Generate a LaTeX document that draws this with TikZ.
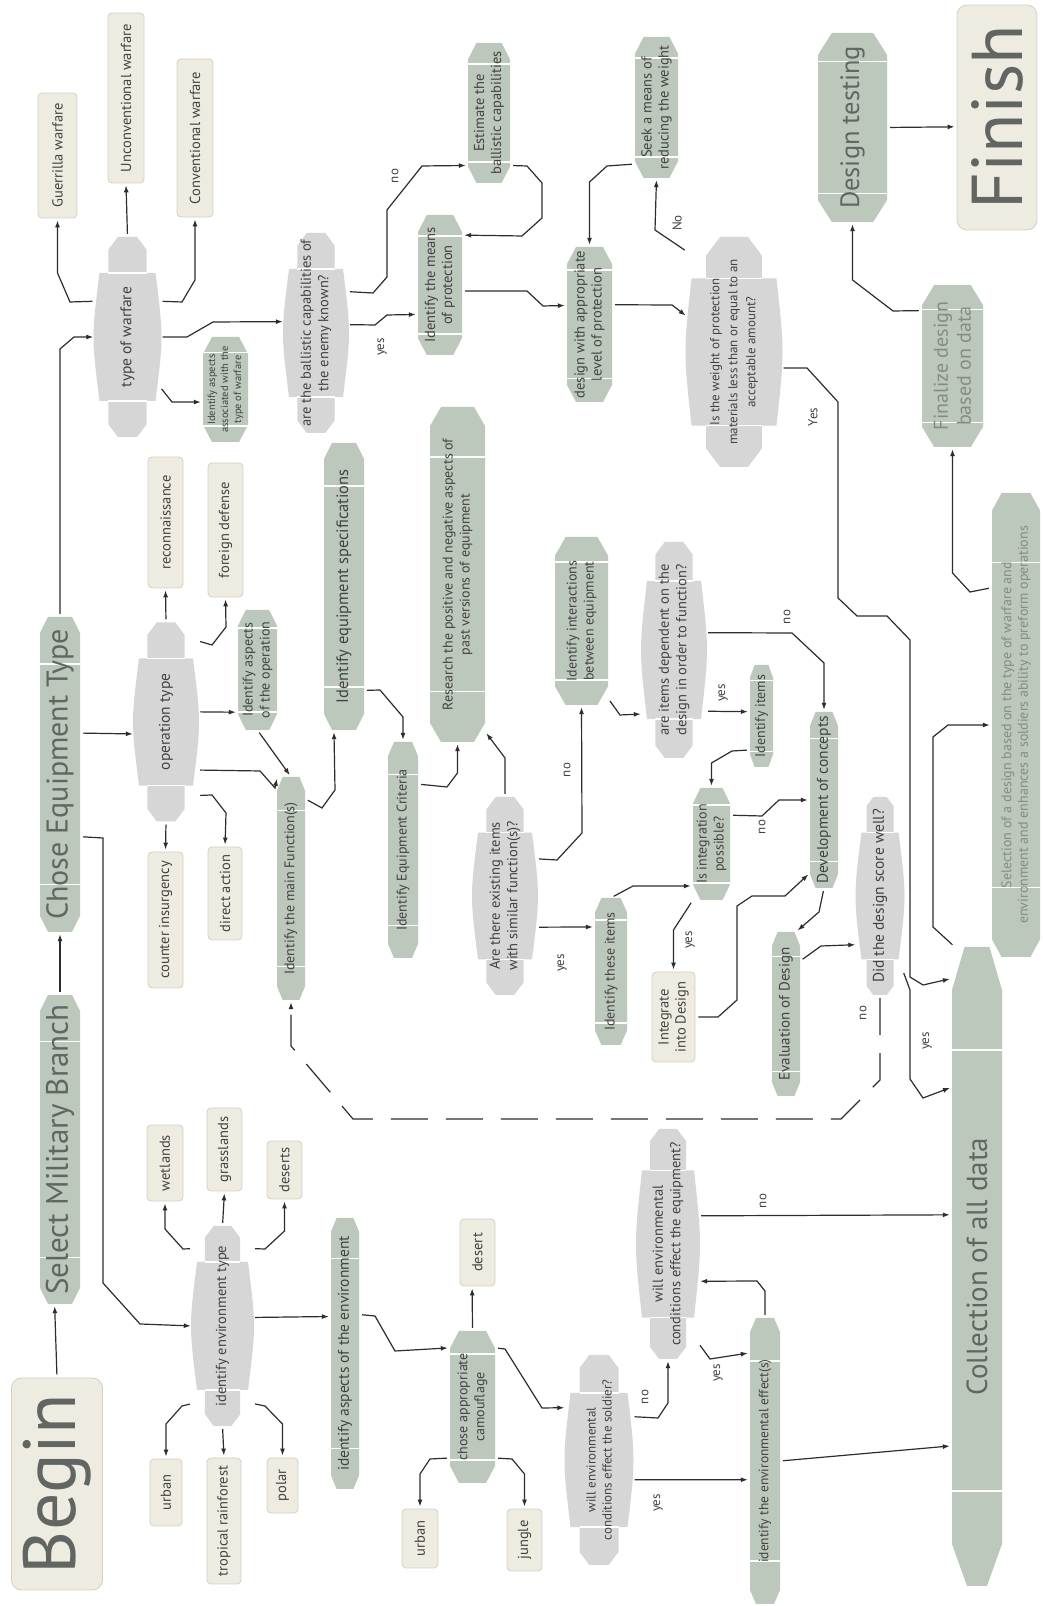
\documentclass[tikz,border=0pt]{standalone}
\usepackage{fontspec}
\setmainfont{PT Sans}
\usetikzlibrary{arrows.meta}

\definecolor{procfill}{RGB}{189,200,189}
\definecolor{decfill}{RGB}{214,214,214}
\definecolor{optfill}{RGB}{238,235,225}
\definecolor{optdraw}{RGB}{212,208,194}
\definecolor{txt}{RGB}{66,66,66}
\definecolor{bigtxt}{RGB}{98,102,98}
\definecolor{paletxt}{RGB}{132,140,132}
\definecolor{linecol}{RGB}{45,45,45}

% green bar: [opts] name, X, Y, length, height, text
\newcommand{\procnode}[7][]{%
  \fill[procfill] ({#3-#5/2},{#4-0.3*#6}) -- ({#3-#5/2+8+0.2*#6},{#4-#6/2})
    -- ({#3+#5/2-8-0.2*#6},{#4-#6/2}) -- ({#3+#5/2},{#4-0.3*#6})
    -- ({#3+#5/2},{#4+0.3*#6}) -- ({#3+#5/2-8-0.2*#6},{#4+#6/2})
    -- ({#3-#5/2+8+0.2*#6},{#4+#6/2}) -- ({#3-#5/2},{#4+0.3*#6}) -- cycle;
  \draw[sepline] ({#3-0.35*#5},{#4-#6/2}) -- ({#3-0.35*#5},{#4+#6/2});
  \draw[sepline] ({#3+0.35*#5},{#4-#6/2}) -- ({#3+0.35*#5},{#4+#6/2});
  \node[proc,minimum width=#5pt,minimum height=#6pt,#1] (#2) at (#3,#4) {#7};
}
% grey question: [opts] name, X, Y, length, height, text
\newcommand{\decnode}[7][]{%
  \fill[decfill] ({#3-#5/2},{#4-0.15*#6}) -- ({#3-#5/2+0.2*#6},{#4-0.3*#6})
    -- ({#3+#5/2-0.2*#6},{#4-0.3*#6}) -- ({#3+#5/2},{#4-0.15*#6})
    -- ({#3+#5/2},{#4+0.15*#6}) -- ({#3+#5/2-0.2*#6},{#4+0.3*#6})
    -- ({#3-#5/2+0.2*#6},{#4+0.3*#6}) -- ({#3-#5/2},{#4+0.15*#6}) -- cycle;
  \fill[decfill] ({#3-0.32*#5},{#4-#6/2+4}) .. controls ({#3},{#4-#6/2-4}) .. ({#3+0.32*#5},{#4-#6/2+4})
    -- ({#3+0.32*#5},{#4+#6/2-4}) .. controls ({#3},{#4+#6/2+4}) .. ({#3-0.32*#5},{#4+#6/2-4}) -- cycle;
  \draw[sepline] ({#3-0.32*#5},{#4-0.3*#6}) -- ({#3-0.32*#5},{#4+0.3*#6});
  \draw[sepline] ({#3+0.32*#5},{#4-0.3*#6}) -- ({#3+0.32*#5},{#4+0.3*#6});
  \node[dec,minimum width=#5pt,minimum height=#6pt,#1] (#2) at (#3,#4) {#7};
}

\begin{document}
\begin{tikzpicture}[x=1pt, y=-1pt,
  proc/.style={rectangle, inner sep=0pt, align=center, text=txt, font=\fontsize{14}{17}\selectfont},
  dec/.style={rectangle, inner sep=0pt, align=center, text=txt, font=\fontsize{14.5}{17.5}\selectfont},
  opt/.style={rectangle, rounded corners=4pt, fill=optfill, draw=optdraw, line width=0.8pt, inner sep=0pt, align=center, text=txt, font=\fontsize{14.5}{17}\selectfont},
  big/.style={text=bigtxt, font=\fontsize{31}{33}\selectfont},
  conn/.style={draw=linecol, line width=1.2pt, -{Latex[length=7pt,width=5pt]}, shorten <=3pt, shorten >=2pt},
  lbl/.style={inner sep=1pt, text=txt, font=\fontsize{13}{15}\selectfont},
  sepline/.style={draw=white, line width=1.5pt},
]
\begin{scope}[rotate=90, transform shape]
\fill[white] (0,0) rectangle (1606,1043);
\useasboundingbox (0,0) rectangle (1606,1043);

% start and end
\node[opt, rounded corners=10pt, minimum width=212pt, minimum height=91pt, text=bigtxt, font=\fontsize{74}{74}\selectfont] (begin) at (122,57) {Begin};
\node[opt, rounded corners=10pt, minimum width=225pt, minimum height=80pt, text=bigtxt, font=\fontsize{72}{72}\selectfont] (finish) at (1488.5,997) {Finish};

% top row
\procnode[big]{select}{456.5}{60}{309}{40}{Select Military Branch}
\procnode[big, font=\fontsize{30}{32}\selectfont]{chose}{831.5}{60}{315}{40}{Chose Equipment Type}

% warfare branch
\decnode[font=\fontsize{15.5}{18}\selectfont]{tow}{1269}{127.5}{200}{64}{type of warfare}
\node[opt, minimum width=125pt, minimum height=39pt] (guer) at (1450.5,57.5) {Guerrilla warfare};
\node[opt, minimum width=170pt, minimum height=36pt] (unconv) at (1508,126) {Unconventional warfare};
\node[opt, minimum width=158pt, minimum height=36pt] (conv) at (1468,195) {Conventional warfare};
\procnode[font=\fontsize{10.5}{13}\selectfont]{aspwar}{1216.5}{225.5}{105}{45}{Identify aspects\\associated with the\\type of warfare}
\decnode{ball}{1273}{316}{200}{62}{are the ballistic capabilities of\\the enemy known?}
\procnode[font=\fontsize{14.5}{17}\selectfont]{estim}{1493}{489}{140}{42}{Estimate the\\ballistic capabilities}
\procnode[font=\fontsize{14.5}{17}\selectfont]{means}{1321}{440}{140}{44}{Identify the means\\of protection}
\procnode[font=\fontsize{14.5}{17}\selectfont]{design}{1281.5}{589.5}{155}{45}{design with appropriate\\level of protection}
\procnode[font=\fontsize{14.5}{17}\selectfont]{seek}{1498.5}{656.5}{141}{43}{Seek a means of\\reducing the weight}
\decnode[font=\fontsize{13}{18}\selectfont]{weight}{1254}{734}{230}{93}{Is the weight of protection\\materials less than or equal to an\\acceptable amount?}
\procnode[text=bigtxt, font=\fontsize{26.5}{29}\selectfont]{testing}{1478.5}{852.5}{189}{69}{Design testing}
\procnode[text=paletxt, font=\fontsize{20}{23}\selectfont]{finalize}{1240}{952.5}{162}{61}{Finalize design\\based on data}
\procnode[text=paletxt, font=\fontsize{14}{16.5}\selectfont]{select2}{881}{1016}{464}{48}{Selection of a design based on the type of warfare and\\environment and enhances a soldiers ability to preform operations}

% operation branch
\decnode[font=\fontsize{15.5}{18}\selectfont]{optype}{884}{166}{199}{62}{operation type}
\node[opt, minimum width=131pt, minimum height=35pt] (recon) at (1083.5,165.5) {reconnaissance};
\node[opt, minimum width=134pt, minimum height=35pt] (foreign) at (1076,225.5) {foreign defense};
\node[opt, minimum width=136pt, minimum height=35pt] (counter) at (686,165.5) {counter insurgency};
\node[opt, minimum width=93pt, minimum height=34pt] (direct) at (712.5,225) {direct action};
\procnode{aspop}{936}{257.5}{120}{39}{Identify aspects\\of the operation}
\procnode{mainfn}{717.5}{291}{223}{28}{Identify the main Function(s)}
\procnode[font=\fontsize{16.5}{19}\selectfont]{spec}{1019.5}{344}{287}{40}{Identify equipment specifications}
\procnode{crit}{756}{403}{216}{30}{Identify Equipment Criteria}
\procnode{research}{1031.5}{457.5}{335}{55}{Research the positive and negative aspects of\\past versions of equipment}
\decnode{exist}{710}{505}{198}{62}{Are there existing items\\with similar function(s)?}
\procnode{inter}{985}{581.5}{168}{53}{Identify interactions\\between equipment}
\decnode{depend}{956}{674}{216}{62}{are items dependent on the\\design in order to function?}
\procnode{these}{634.5}{611}{147}{32}{Identify these items}
\procnode{items}{890}{761.5}{102}{23}{Identify items}
\procnode{intpos}{762}{711.5}{112}{37}{Is integration\\possible?}
\node[opt, minimum width=90pt, minimum height=43pt] (integ) at (589,673.5) {Integrate\\into Design};
\procnode[font=\fontsize{15.5}{18}\selectfont]{devel}{806}{824}{176}{28}{Development of concepts}
\procnode[font=\fontsize{15}{18}\selectfont]{eval}{592}{786}{164}{28}{Evaluation of Design}
\decnode[font=\fontsize{15.5}{18}\selectfont]{score}{710}{880}{198}{45}{Did the design score well?}

% environment branch
\decnode{envtype}{280}{222.5}{200}{59}{identify environment type}
\node[opt, minimum width=76pt, minimum height=36pt] (wet) at (443,165) {wetlands};
\node[opt, minimum width=83pt, minimum height=35pt] (grass) at (456.5,224.5) {grasslands};
\node[opt, minimum width=58pt, minimum height=35pt] (deserts) at (436,284.5) {deserts};
\node[opt, minimum width=67pt, minimum height=32pt] (urbanA) at (113.5,166) {urban};
\node[opt, minimum width=126pt, minimum height=34pt] (trop) at (85,224) {tropical rainforest};
\node[opt, minimum width=55pt, minimum height=31pt] (polar) at (120.5,282.5) {polar};
\procnode[font=\fontsize{15.5}{18}\selectfont]{aspenv}{252.5}{345}{271}{28}{identify aspects of the environment}
\procnode{camo}{199}{472.5}{152}{45}{chose appropriate\\camouflage}
\node[opt, minimum width=67pt, minimum height=35pt] (desert) at (353.5,477.5) {desert};
\node[opt, minimum width=59pt, minimum height=36pt] (urbanB) at (67.5,420) {urban};
\node[opt, minimum width=62pt, minimum height=35pt] (jungle) at (66,524.5) {jungle};
\decnode[font=\fontsize{13}{16}\selectfont]{soldier}{146}{599}{210}{65}{will environmental\\conditions effect the soldier?}
\decnode{equip}{362}{668}{230}{60}{will environmental\\conditions effect the equipment?}
\procnode[font=\fontsize{13.5}{16}\selectfont]{effects}{145}{765}{286}{30}{identify the environmental effect(s)}

% collection bar
\fill[procfill] (20,967) -- (62,952) -- (616,952) -- (659,964.5) -- (659,989.5) -- (616,1002) -- (62,1002) -- (20,987) -- cycle;
\draw[sepline] (115,952) -- (115,1002);
\draw[sepline] (556,952) -- (556,1002);
\node[proc, big, font=\fontsize{29}{31}\selectfont, minimum width=639pt, minimum height=50pt] (coll) at (339.5,977) {Collection of all data};

% main chain
\draw[conn] (begin.east) -- (select.178.9);
\draw[conn] (select.east) -- (chose.west);
\draw[conn] (chose.east) -- (1257,60) -- (1269,74) -- (tow.north);
\draw[conn] (chose.-26.3) -- (optype.111.2);
\draw[conn] (chose.-162.5) -- (768,103) -- (323,103) -- (282,140) -- (envtype.north);

% warfare links
\draw[conn] (tow.42.4) -- (1304,70) -- (1333,57.5) -- (guer.west);
\draw[conn] (tow.east) -- (unconv.west);
\draw[conn] (tow.-42.4) -- (1304,182) -- (1326,195) -- (conv.west);
\draw[conn] (tow.-147.9) -- (1204,172) -- (aspwar.119);
\draw[conn] (tow.south) -- (1269,187) -- (1284,213) -- (ball.70.5);
\draw[conn] (ball.-37.8) -- (1313,373) -- (1329,387) -- (1396,387) -- (1440,422) -- (estim.158.4);
\node[lbl] (lno1) at (1430,395) {no};
\draw[conn] (ball.-75.5) -- (1281,375) -- (1291,387) -- (means.143.7);
\node[lbl] (lyes1) at (1259,382) {yes};
\draw[conn] (estim.-158.4) -- (1440,527) -- (1423,542) -- (1388,542) -- (1370,522) -- (means.-24.2);
\draw[conn] (means.-105.3) -- (1315,527) -- (1300,543) -- (design.50.6);
\draw[conn] (seek.159.8) -- (1440,607) -- (1424,589.5) -- (design.east);
\draw[conn] (weight.25.6) -- (1376,655) -- (seek.west);
\node[lbl] (lno2) at (1383,677) {No};
\draw[conn] (design.-49.1) -- (1301,672) -- (weight.53);
\draw[conn] (weight.-109) -- (1238,807) -- (1204,838) -- (1008,838) -- (990,857) -- (990,887) -- (966,910) -- (629,910) -- (621,923) -- (coll.5.1);
\node[lbl] (lyes2) at (1189,813) {Yes};

% finishing links
\draw[conn] (coll.4.6) -- (679,933) -- (869,933) -- (881,948) -- (select2.north);
\draw[conn] (select2.10.2) -- (1014,970) -- (1033,952.5) -- (finalize.west);
\draw[conn] (finalize.29) -- (1295,893) -- (1326,852.5) -- (testing.west);
\draw[conn] (testing.south) -- (finish.103.2);

% operation links
\draw[conn] (optype.east) -- (recon.west);
\draw[conn] (optype.-21.9) -- (961,212) -- (979,226) -- (foreign.west);
\draw[conn] (optype.-72.1) -- (aspop.155.1);
\draw[conn] (aspop.west) -- (mainfn.east);
\draw[conn] (optype.-147.7) -- (835,260) -- (818,275) -- (mainfn.7.9);
\draw[conn] (optype.west) -- (counter.east);
\draw[conn] (optype.-157) -- (811,212) -- (793,226) -- (direct.east);
\draw[conn] (mainfn.-9.9) -- (798,322) -- (816,335) -- (spec.176.4);
\draw[conn] (spec.-169.1) -- (916,380) -- (889,403) -- (crit.east);
\draw[conn] (crit.-13.4) -- (819,447) -- (833,457.5) -- (research.west);
\draw[conn] (exist.east) -- (848,505) -- (research.-170.3);
\draw[conn] (exist.-40.7) -- (746,557) -- (773,582) -- (inter.west);
\node[lbl] (lno3) at (836,567) {no};
\draw[conn] (exist.-135.9) -- (these.20.2);
\node[lbl] (lyes3) at (643,562) {yes};
\draw[conn] (inter.-161.5) -- (891,620) -- (depend.154.5);
\draw[conn] (depend.-153.4) -- (items.70.8);
\node[lbl] (lyes4) at (913,723) {yes};
\draw[conn] (depend.-61.3) -- (973,792) -- (943,824) -- (devel.east);
\node[lbl] (lno4) at (989,787) {no};
\draw[conn] (items.161.8) -- (855,732) -- (843,711.5) -- (intpos.east);
\draw[conn] (these.east) -- (720,633) -- (intpos.156.2);
\draw[conn] (intpos.north west) -- (676,673.5) -- (integ.east);
\node[lbl] (lyes5) at (666,690) {yes};
\draw[conn] (intpos.-33.5) -- (790,762) -- (806,779) -- (devel.north);
\node[lbl] (lno5) at (779,762) {no};
\draw[conn] (integ.south) -- (589,718) -- (606,737) -- (700,737) -- (710,752) -- (710,785) -- (devel.169.8);
\draw[conn] (devel.west) -- (694,819) -- (eval.-7.6);
\draw[conn] (eval.-15) -- (660,821) -- (score.155.8);
\draw[conn] (score.-163.7) -- (616,910) -- (527,910) -- (508,923) -- (coll.8.4);
\node[lbl] (lyes6) at (565,927) {yes};
\draw[conn, dash pattern=on 37pt off 18pt] (score.west) -- (526,880) -- (487,841) -- (487,353) -- (560,291) -- (mainfn.west);
\node[lbl] (lno6) at (593,863) {no};

% environment links
\draw[conn] (envtype.21) -- (357,183) -- (377,165) -- (wet.west);
\draw[conn] (envtype.east) -- (grass.west);
\draw[conn] (envtype.-21) -- (357,265) -- (375,284.5) -- (deserts.west);
\draw[conn] (envtype.159.8) -- (200,182) -- (182,166) -- (urbanA.east);
\draw[conn] (envtype.west) -- (trop.east);
\draw[conn] (envtype.-159.8) -- (200,265) -- (182,282.5) -- (polar.east);
\draw[conn] (envtype.-74.8) -- (aspenv.21.5);
\draw[conn] (aspenv.-20.5) -- (290,375) -- (255,395) -- (camo.21.9);
\draw[conn] (camo.east) -- (desert.171.5);
\draw[conn] (camo.156.6) -- (147,430) -- (132,420) -- (urbanB.east);
\draw[conn] (camo.-156.6) -- (147,512) -- (132,524.5) -- (jungle.east);
\draw[conn] (camo.-21.2) -- (257,505) -- (198,542) -- (soldier.32);
\draw[conn] (soldier.-37.7) -- (188,658) -- (203,668) -- (equip.west);
\node[lbl] (lno7) at (209,645) {no};
\draw[conn] (soldier.-121.6) -- (effects.141.7);
\node[lbl] (lyes7) at (103,658) {yes};
\draw[conn] (equip.-163.3) -- (247,710) -- (effects.8.4);
\node[lbl] (lyes8) at (233,718) {yes};
\draw[conn] (effects.east) -- (315,765) -- (325,757) -- (equip.-141);
\draw[conn] (equip.-47) -- (coll.26.3);
\node[lbl] (lno8) at (405,763) {no};
\draw[conn] (effects.south) -- (coll.172.7);
\end{scope}
\end{tikzpicture}
\end{document}
